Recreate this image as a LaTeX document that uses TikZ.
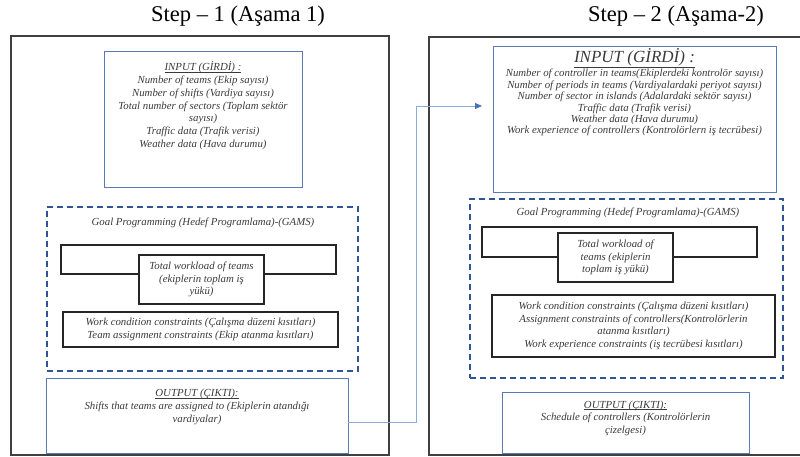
\documentclass[tikz,border=0pt]{standalone}
\usepackage{fontspec}
\setmainfont{Liberation Serif}
\usetikzlibrary{arrows.meta}
\definecolor{boxblue}{HTML}{5A7AB5}
\definecolor{dashblue}{HTML}{2F5597}
\definecolor{linkblue}{HTML}{8EAADB}
\definecolor{tipblue}{HTML}{4472C4}
\definecolor{txt}{HTML}{3A3A3A}
\newcommand{\headul}[1]{\underline{\smash{#1}}}
\tikzset{
  x=1pt, y=-1pt,
  outerbox/.style={draw=black!75, line width=1.4pt, inner sep=0pt},
  bluebox/.style={draw=boxblue, line width=0.9pt, inner sep=0pt},
  dashbox/.style={draw=dashblue, line width=1.6pt, dash pattern=on 6pt off 4pt, inner sep=0pt},
  blackbox/.style={draw=black!85, line width=1.1pt, inner sep=0pt, fill=white},
  body/.style={text=txt, font=\fontsize{10.8}{12.8}\selectfont\itshape, align=center, inner sep=0pt},
  bodyr/.style={text=txt, font=\fontsize{10.8}{11.4}\selectfont\itshape, align=center, inner sep=0pt},
  title/.style={font=\fontsize{22.5}{26}\selectfont, inner sep=0pt},
  link/.style={draw=linkblue, line width=0.8pt, -{Triangle[length=7pt,width=6pt,fill=tipblue,color=tipblue]}}
}
\begin{document}
\begin{tikzpicture}
\useasboundingbox (0,0) rectangle (800,457);
% titles
\node[title] (t1) at (238,16) {Step – 1 (Aşama 1)};
\node[title] (t2) at (676,16) {Step – 2 (Aşama-2)};
% outer boxes
\node[outerbox, minimum width=378pt, minimum height=419pt] (L) at (200,245.5) {};
\node[outerbox, minimum width=400pt, minimum height=418pt] (R) at (629,246) {};
% ---------- left step ----------
\node[bluebox, minimum width=198pt, minimum height=136pt] (lin) at (203,119) {};
\node[body, anchor=north] (lintxt) at (203,61.5) {\strut\headul{INPUT (GİRDİ) :}\\
Number of teams (Ekip sayısı)\\
Number of shifts (Vardiya sayısı)\\
Total number of sectors (Toplam sektör\\
sayısı)\\
Traffic data (Trafik verisi)\\
Weather data (Hava durumu)};
\node[dashbox, minimum width=311pt, minimum height=164pt] (lgp) at (202.5,289) {};
\node[body] (lgptxt) at (203,223) {Goal Programming (Hedef Programlama)-(GAMS)};
\node[draw=black!85, line width=1.1pt, minimum width=275pt, minimum height=29pt] (lwide) at (198.5,259.5) {};
\node[blackbox, minimum width=125pt, minimum height=49pt] (lwl) at (201.5,279.5) {};
\node[body] (lwltxt) at (lwl) {Total workload of teams\\(ekiplerin toplam iş\\yükü)};
\node[blackbox, minimum width=275pt, minimum height=35pt] (lcon) at (200.5,329.5) {};
\node[body] (lcontxt) at (lcon) {Work condition constraints (Çalışma düzeni kısıtları)\\Team assignment constraints (Ekip atanma kısıtları)};
\node[bluebox, minimum width=302pt, minimum height=75pt] (lout) at (197,415.5) {};
\node[body, anchor=north] (louttxt) at (197,387.5) {\strut\headul{OUTPUT (ÇIKTI):}\\
Shifts that teams are assigned to (Ekiplerin atandığı\\vardiyalar)};
% ---------- right step ----------
\node[bluebox, minimum width=283pt, minimum height=146pt] (rin) at (634.5,119) {};
\node[text=txt, font=\fontsize{17}{19}\selectfont\itshape, inner sep=0pt] (rinhead) at (634.5,58) {\underline{INPUT (GİRDİ) :}};
\node[bodyr, anchor=north] (rintxt) at (634.5,69) {Number of controller in teams(Ekiplerdeki kontrolör sayısı)\\
Number of periods in teams (Vardiyalardaki periyot sayısı)\\
Number of sector in islands (Adalardaki sektör sayısı)\\
Traffic data (Trafik verisi)\\
Weather data (Hava durumu)\\
Work experience of controllers (Kontrolörlern iş tecrübesi)};
\node[dashbox, minimum width=313pt, minimum height=179pt] (rgp) at (626.5,288.5) {};
\node[body] (rgptxt) at (628,213) {Goal Programming (Hedef Programlama)-(GAMS)};
\node[draw=black!85, line width=1.1pt, minimum width=275pt, minimum height=30pt] (rwide) at (619.5,242) {};
\node[blackbox, minimum width=115pt, minimum height=49pt] (rwl) at (615.5,257.5) {};
\node[body] (rwltxt) at (rwl) {Total workload of\\teams (ekiplerin\\toplam iş yükü)};
\node[blackbox, minimum width=283pt, minimum height=62pt] (rcon) at (633.5,326) {};
\node[body] (rcontxt) at (rcon) {Work condition constraints (Çalışma düzeni kısıtları)\\
Assignment constraints of controllers(Kontrolörlerin\\atanma kısıtları)\\
Work experience constraints (iş tecrübesi kısıtları)};
\node[bluebox, minimum width=247pt, minimum height=61pt] (rout) at (625.5,422.5) {};
\node[body, anchor=north] (routtxt) at (625.5,399) {\strut\headul{OUTPUT (ÇIKTI):}\\
Schedule of controllers (Kontrolörlerin\\çizelgesi)};
% ---------- connector ----------
\coordinate (tip) at (482,106);
\draw[link] (lout.east |- 0,422) -- (416,422) |- (tip);
\end{tikzpicture}
\end{document}
